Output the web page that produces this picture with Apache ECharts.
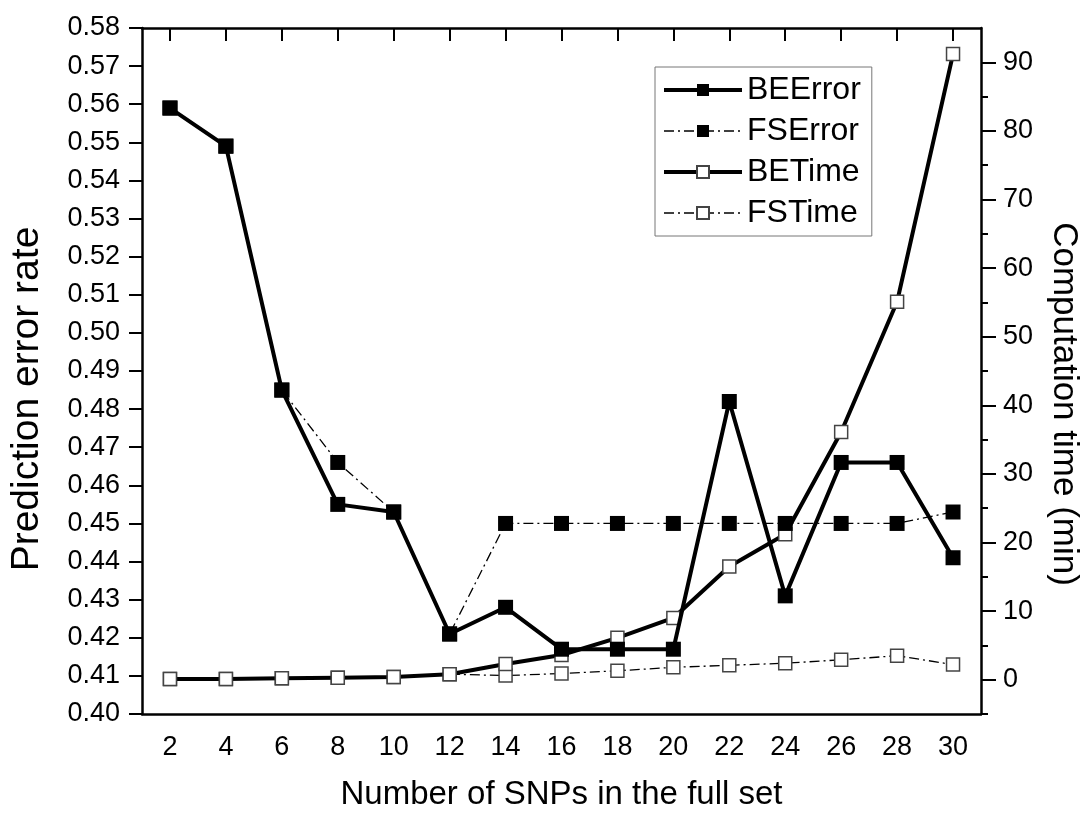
<!DOCTYPE html>
<html>
  <head>
    <meta charset="utf-8" />
    <script src="https://cdn.jsdelivr.net/npm/echarts@6/dist/echarts.min.js"></script>
  </head>
  <body style="margin:0;background:#fff;">
  <div id="main" style="width: 1089px;height:816px;"></div>

  <script type="text/javascript">
      // data
      var snps = ['2', '4', '6', '8', '10', '12', '14', '16', '18', '20', '22', '24', '26', '28', '30'];
      var beError = [0.559, 0.549, 0.485, 0.455, 0.453, 0.421, 0.428, 0.417, 0.417, 0.417, 0.482, 0.431, 0.466, 0.466, 0.441];
      var fsError = [0.559, 0.549, 0.485, 0.466, 0.453, 0.421, 0.450, 0.450, 0.450, 0.450, 0.450, 0.450, 0.450, 0.450, 0.453];
      var beTime = [0.1, 0.1, 0.2, 0.3, 0.4, 0.8, 2.3, 3.6, 6.1, 9.0, 16.5, 21.2, 36.1, 55.1, 91.2];
      var fsTime = [0.1, 0.1, 0.2, 0.3, 0.4, 0.8, 0.6, 0.9, 1.3, 1.8, 2.1, 2.4, 2.9, 3.5, 2.2];
      var timeMajorTicks = [0, 10, 20, 30, 40, 50, 60, 70, 80, 90];
      var timeMinorTicks = [-5, 5, 15, 25, 35, 45, 55, 65, 75, 85];

      var font = 'Liberation Sans';
      var dashDot = [10, 4, 2, 4];

      var myChart = echarts.init(document.getElementById('main'));

      var option = {
        animation: false,
        backgroundColor: '#fff',
        textStyle: { fontFamily: font, color: '#000' },
        grid: { left: 140, right: 102, top: 28, bottom: 102 },
        legend: {
          orient: 'vertical',
          left: 655, top: 67,
          padding: [7, 11, 7, 7],
          itemGap: 9,
          itemWidth: 78, itemHeight: 15,
          borderColor: '#777', borderWidth: 1,
          lineStyle: { width: 'inherit' },
          textStyle: { fontSize: 32, color: '#000', fontFamily: font },
          data: ['BEError', 'FSError', 'BETime', 'FSTime']
        },
        xAxis: [
          {
            type: 'category', data: snps, position: 'bottom',
            boundaryGap: true,
            name: 'Number of SNPs in the full set',
            nameLocation: 'middle', nameGap: 64,
            nameTextStyle: { fontSize: 33, color: '#000', fontFamily: font },
            axisLine: { onZero: false, lineStyle: { color: '#000', width: 2.5 } },
            axisTick: { alignWithLabel: true, interval: 0, inside: false, length: 13, lineStyle: { color: '#000', width: 2 } },
            axisLabel: { fontSize: 27, color: '#000', margin: 20, fontFamily: font, interval: 0 }
          },
          {
            type: 'category', data: snps, position: 'top',
            boundaryGap: true,
            axisLine: { show: true, onZero: false, lineStyle: { color: '#000', width: 2.5 } },
            axisTick: { show: true, alignWithLabel: true, interval: 0, inside: true, length: 13, lineStyle: { color: '#000', width: 2 } },
            axisLabel: { show: true, interval: 0, color: 'rgba(0,0,0,0)', fontSize: 10 }
          }
        ],
        yAxis: [
          {
            type: 'value', position: 'left',
            min: 0.40, max: 0.58, interval: 0.01,
            name: 'Prediction error rate',
            nameLocation: 'middle', nameGap: 95, nameRotate: 90,
            nameTextStyle: { fontSize: 39, color: '#000', fontFamily: font, padding: [0, 56, 0, 0] },
            splitLine: { show: false },
            axisLine: { show: true, onZero: false, lineStyle: { color: '#000', width: 2.5 } },
            axisTick: { show: true, length: 13, lineStyle: { color: '#000', width: 2 } },
            axisLabel: {
              fontSize: 27, color: '#000', margin: 22, fontFamily: font,
              formatter: function (v) { return v.toFixed(2); }
            }
          },
          {
            type: 'value', position: 'right',
            min: -5, max: 95, interval: 5,
            name: 'Computation time (min)',
            nameLocation: 'middle', nameGap: 65, nameRotate: -90,
            nameTextStyle: { fontSize: 35, color: '#000', fontFamily: font, padding: [0, 0, 0, 66] },
            splitLine: { show: false },
            axisLine: { show: true, onZero: false, lineStyle: { color: '#000', width: 2.5 } },
            axisTick: { show: true, length: 15, customValues: timeMajorTicks, lineStyle: { color: '#000', width: 2 } },
            axisLabel: { fontSize: 27, color: '#000', margin: 22, fontFamily: font, customValues: timeMajorTicks }
          },
          {
            // short ticks between the labelled ones
            type: 'value', position: 'right',
            min: -5, max: 95, interval: 5,
            splitLine: { show: false },
            axisLine: { show: false, onZero: false },
            axisTick: { show: true, length: 7, customValues: timeMinorTicks, lineStyle: { color: '#000', width: 2 } },
            axisLabel: { show: false }
          }
        ],
        series: [
          {
            name: 'BEError', type: 'line', yAxisIndex: 0, data: beError,
            symbol: 'rect', symbolSize: 15, z: 5,
            lineStyle: { color: '#000', width: 4 },
            itemStyle: { color: '#000' }
          },
          {
            name: 'FSError', type: 'line', yAxisIndex: 0, data: fsError,
            symbol: 'rect', symbolSize: 15, z: 4,
            lineStyle: { color: '#000', width: 1.3, type: dashDot },
            itemStyle: { color: '#000' }
          },
          {
            name: 'BETime', type: 'line', yAxisIndex: 1, data: beTime,
            symbol: 'rect', symbolSize: 13, z: 3,
            lineStyle: { color: '#000', width: 4 },
            itemStyle: { color: '#fff', borderColor: '#444', borderWidth: 1.5 }
          },
          {
            name: 'FSTime', type: 'line', yAxisIndex: 1, data: fsTime,
            symbol: 'rect', symbolSize: 13, z: 2,
            lineStyle: { color: '#000', width: 1.3, type: dashDot },
            itemStyle: { color: '#fff', borderColor: '#444', borderWidth: 1.5 }
          }
        ]
      };

      myChart.setOption(option);
    </script>
</body>
</html>
